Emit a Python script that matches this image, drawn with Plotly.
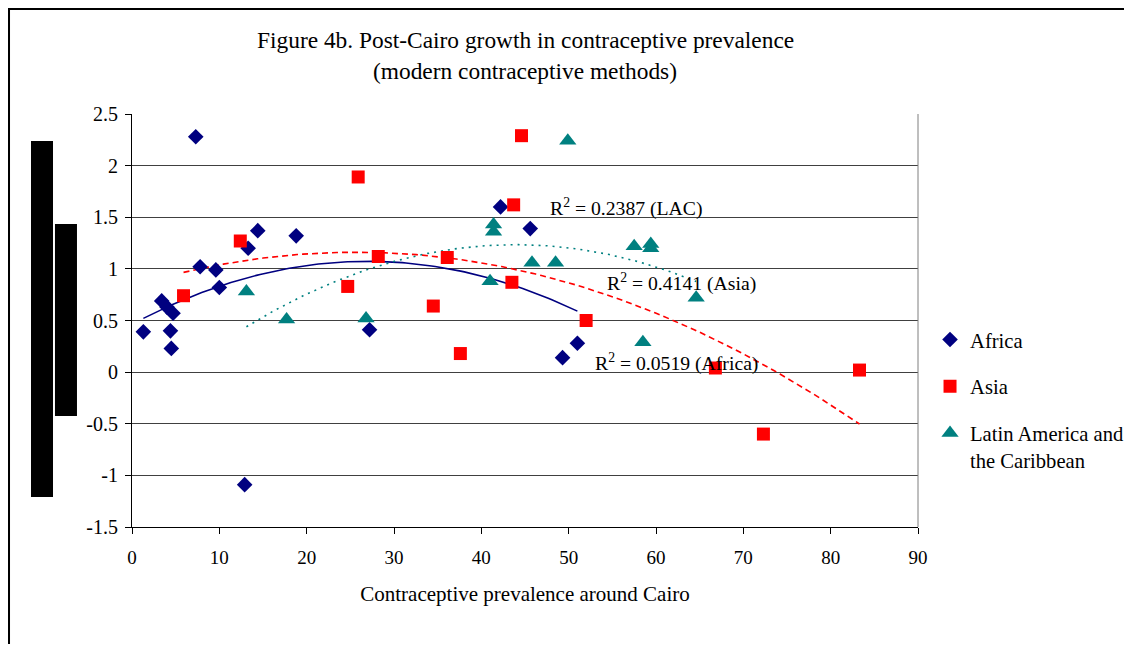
import numpy as np
import plotly.graph_objects as go

# ---- data ----
africa_x = [1.3, 3.4, 4.0, 4.7, 4.4, 4.5, 7.3, 7.8, 9.6, 10.0, 13.3, 14.4, 18.8, 12.9, 27.2, 42.2, 45.6, 49.3, 51.0]
africa_y = [0.39, 0.69, 0.63, 0.57, 0.40, 0.23, 2.28, 1.02, 0.99, 0.82, 1.20, 1.37, 1.32, -1.09, 0.41, 1.60, 1.39, 0.14, 0.28]

asia_x = [5.9, 12.4, 25.9, 24.7, 28.2, 44.6, 43.7, 36.1, 43.5, 34.5, 37.6, 52.0, 66.8, 83.3, 72.3]
asia_y = [0.74, 1.27, 1.89, 0.83, 1.12, 2.29, 1.62, 1.11, 0.87, 0.64, 0.18, 0.50, 0.04, 0.02, -0.60]

lac_x = [13.1, 17.7, 26.8, 49.9, 41.4, 41.4, 45.8, 48.5, 57.5, 59.4, 59.4, 41.0, 58.5, 64.6]
lac_y = [0.78, 0.51, 0.52, 2.24, 1.43, 1.36, 1.06, 1.06, 1.22, 1.24, 1.20, 0.88, 0.29, 0.72]

series_names = ["Africa", "Asia", "Latin America and<br>the Caribbean"]
r2_labels = ["R<sup>2</sup> = 0.0519 (Africa)", "R<sup>2</sup> = 0.4141 (Asia)", "R<sup>2</sup> = 0.2387 (LAC)"]

x_ticks = [0, 10, 20, 30, 40, 50, 60, 70, 80, 90]
y_ticks = [-1.5, -1, -0.5, 0, 0.5, 1, 1.5, 2, 2.5]
y_ticktext = ["-1.5", "-1", "-0.5", "0", "0.5", "1", "1.5", "2", "2.5"]

title_line1 = "Figure 4b. Post-Cairo growth in contraceptive prevalence"
title_line2 = "(modern contraceptive methods)"
x_title = "Contraceptive prevalence around Cairo"

FONT = "Liberation Serif, Times New Roman, serif"
NAVY, RED, TEAL = "#000080", "#FF0000", "#008080"

fig = go.Figure()


def trend(xs, ys):
    c = np.polyfit(xs, ys, 2)
    xx = np.linspace(min(xs), max(xs), 120)
    return xx, np.polyval(c, xx)


specs = [
    (africa_x, africa_y, NAVY, "diamond", 12, "solid", series_names[0]),
    (asia_x, asia_y, RED, "square", 13, "6px,4px", series_names[1]),
    (lac_x, lac_y, TEAL, "triangle-up", 15, "2px,5px", series_names[2]),
]

# trend lines (2nd order polynomial fits, like Excel)
for xs, ys, col, sym, sz, dash, name in specs:
    tx, ty = trend(xs, ys)
    fig.add_trace(go.Scatter(x=tx, y=ty, mode="lines", showlegend=False, hoverinfo="skip",
                             line=dict(color=col, width=1.6, dash=dash)))

for i, (xs, ys, col, sym, sz, dash, name) in enumerate(specs):
    fig.add_trace(go.Scatter(x=xs, y=ys, mode="markers", name=name, legendgroup=f"g{i}",
                             marker=dict(symbol=sym, size=sz, color=col, line=dict(width=0))))

# R^2 labels
ann_font = dict(family=FONT, size=19.7, color="black")
fig.add_annotation(x=52.8, y=0.09, text=r2_labels[0], showarrow=False, xanchor="left", yanchor="middle", font=ann_font)
fig.add_annotation(x=54.2, y=0.87, text=r2_labels[1], showarrow=False, xanchor="left", yanchor="middle", font=ann_font)
fig.add_annotation(x=47.6, y=1.59, text=r2_labels[2], showarrow=False, xanchor="left", yanchor="middle", font=ann_font)

# titles
title_font = dict(family=FONT, size=23.4, color="black")
fig.add_annotation(xref="paper", yref="paper", x=0.5, y=1.179, text=title_line1, showarrow=False,
                   xanchor="center", yanchor="middle", font=title_font)
fig.add_annotation(xref="paper", yref="paper", x=0.5, y=1.104, text=title_line2, showarrow=False,
                   xanchor="center", yanchor="middle", font=title_font)

shapes = [
    # outer chart border
    dict(type="rect", xref="paper", yref="paper", x0=-0.1571, x1=1.30, y0=-0.33, y1=1.2554,
         line=dict(color="black", width=3), layer="below"),
    # right border of plot area
    dict(type="line", xref="paper", yref="paper", x0=1, x1=1, y0=0, y1=1,
         line=dict(color="#7f7f7f", width=1)),
    # redaction boxes
    dict(type="rect", xref="paper", yref="paper", x0=-0.1285, x1=-0.1005, y0=0.0726, y1=0.9346,
         fillcolor="black", line=dict(width=0)),
    dict(type="rect", xref="paper", yref="paper", x0=-0.0980, x1=-0.0700, y0=0.2688, y1=0.7337,
         fillcolor="black", line=dict(width=0)),
]

fig.update_layout(
    width=1124, height=636,
    margin=dict(l=124, r=214, t=106, b=117, autoexpand=False),
    paper_bgcolor="white", plot_bgcolor="white",
    font=dict(family=FONT, size=18, color="black"),
    shapes=shapes,
    showlegend=True,
    legend=dict(x=1.0153, xanchor="left", y=0.502, yanchor="top", valign="top",
                font=dict(family=FONT, size=20.6, color="black"), tracegroupgap=17,
                bgcolor="rgba(0,0,0,0)"),
    xaxis=dict(range=[0, 90], tickvals=x_ticks, ticks="outside", ticklen=6, tickcolor="black",
               showline=True, linecolor="black", linewidth=1, showgrid=False, zeroline=False,
               tickfont=dict(size=19), ticklabelstandoff=7,
               title=dict(text=x_title, font=dict(size=21), standoff=19)),
    yaxis=dict(range=[-1.5, 2.5], tickvals=y_ticks, ticktext=y_ticktext, ticks="outside", ticklen=6,
               tickcolor="black", showline=True, linecolor="black", linewidth=1,
               showgrid=True, gridcolor="#404040", gridwidth=1, zeroline=False,
               tickfont=dict(size=20), ticklabelstandoff=3),
)

fig.write_html("out.html")
